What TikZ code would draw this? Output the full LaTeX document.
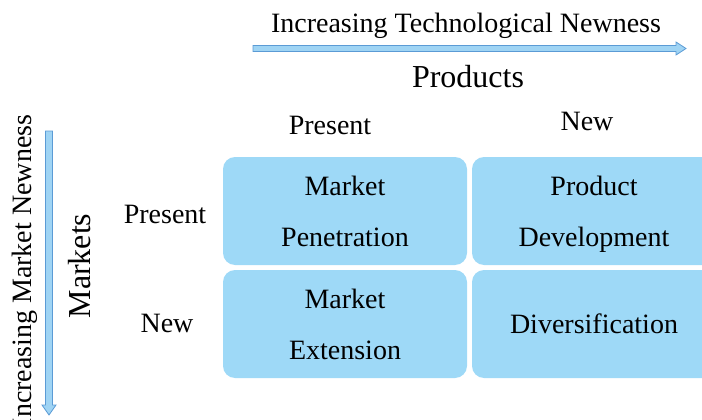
\documentclass[tikz,border=0pt]{standalone}
\usepackage{fontspec}
\setmainfont{Liberation Serif}
\definecolor{cellblue}{HTML}{9ED9F7}
\definecolor{arrowfill}{HTML}{9FD4F4}
\definecolor{arrowline}{HTML}{5B9BD5}

\begin{document}
\begin{tikzpicture}[x=1pt,y=-1pt,
  txt/.style={font=\fontsize{28}{34}\selectfont, inner sep=0pt},
  big/.style={font=\fontsize{32}{38}\selectfont, inner sep=0pt},
  cell/.style={fill=cellblue, rounded corners=12pt, minimum width=244pt,
    minimum height=108pt, inner sep=0pt, align=center,
    font=\fontsize{28}{34}\selectfont},
  blockarrow/.style={fill=arrowfill, draw=arrowline, line width=0.8pt, line join=miter}]
\useasboundingbox (0,0) rectangle (702,420);
\clip (0,0) rectangle (702,420);
%fleches
\draw[blockarrow] (253,45.5) -- (676,45.5) -- (676,42) -- (686,48.5) -- (676,55)
  -- (676,51.5) -- (253,51.5) -- cycle;
\draw[blockarrow] (45.5,131) -- (45.5,405) -- (42,405) -- (49,415) -- (56,405)
  -- (52.5,405) -- (52.5,131) -- cycle;
%titres
\node[txt, anchor=base] (technew) at (466,33) {Increasing Technological Newness};
\node[big, anchor=base] (products) at (468,88) {Products};
\node[txt, anchor=base, rotate=90] (marketnew) at (31,271) {Increasing Market Newness};
\node[big, anchor=base, rotate=90] (markets) at (90,266) {Markets};
%colonnes et lignes
\node[txt, anchor=base] (colpresent) at (330,134) {Present};
\node[txt, anchor=base] (colnew) at (587,131) {New};
\node[txt, anchor=base] (rowpresent) at (165,223) {Present};
\node[txt, anchor=base] (rownew) at (167,332) {New};
%cases
\node[cell] (penetration) at (345,211) {Market\\[17pt]Penetration};
\node[cell] (development) at (594,211) {\rule{0pt}{25pt}Product\\[17pt]Development};
\node[cell] (extension) at (345,324) {Market\\[17pt]Extension};
\node[cell] (diversification) at (594,324) {Diversification};
\end{tikzpicture}
\end{document}
